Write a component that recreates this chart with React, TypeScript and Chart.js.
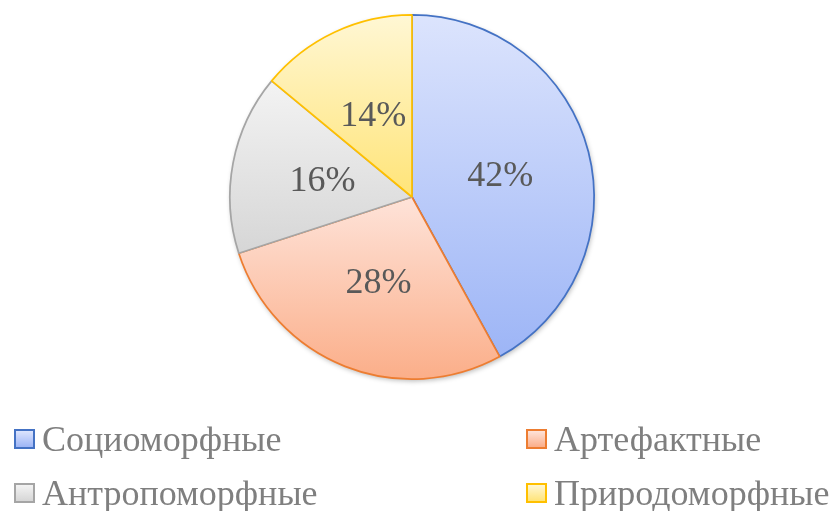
import React, { useEffect, useRef } from "react";
import { Chart, registerables } from "chart.js";

Chart.register(...registerables);

const categories = ["Социоморфные", "Артефактные", "Антропоморфные", "Природоморфные"];
const values = [42, 28, 16, 14];
const valueLabels = ["42%", "28%", "16%", "14%"];
const borderColors = ["#4472c4", "#ed7d31", "#a5a5a5", "#ffc000"];
const gradTop = ["#dce4fd", "#fee3d9", "#f3f3f3", "#fff7d4"];
const gradBottom = ["#9db5f6", "#fbae89", "#d6d6d6", "#ffe478"];

const SERIF = '"Liberation Serif", "Times New Roman", serif';
const BW = 1.75;

function sliceGradient(ctx: any) {
  const chart = ctx.chart;
  const area = chart.chartArea;
  const i = ctx.dataIndex;
  if (!area || i === undefined) return gradBottom[i ?? 0];
  const cy = (area.top + area.bottom) / 2;
  const r = (Math.min(area.right - area.left, area.bottom - area.top) - BW) / 2;
  const total = values.reduce((a, b) => a + b, 0);
  let cum = 0;
  for (let k = 0; k < i; k++) cum += values[k];
  const a0 = -Math.PI / 2 + (2 * Math.PI * cum) / total;
  const a1 = a0 + (2 * Math.PI * values[i]) / total;
  const ys = [cy, cy + r * Math.sin(a0), cy + r * Math.sin(a1)];
  const inRange = (a: number) => {
    for (let t = a - 4 * Math.PI; t <= a1 + 1e-9; t += 2 * Math.PI) {
      if (t >= a0 - 1e-9 && t <= a1 + 1e-9) return true;
    }
    return false;
  };
  if (inRange(Math.PI / 2)) ys.push(cy + r);
  if (inRange(-Math.PI / 2)) ys.push(cy - r);
  const y0 = Math.min(...ys);
  const y1 = Math.max(...ys);
  const g = chart.ctx.createLinearGradient(0, y0, 0, y1);
  g.addColorStop(0, gradTop[i]);
  g.addColorStop(1, gradBottom[i]);
  return g;
}

const shadowPlugin = {
  id: "pieShadow",
  beforeDatasetsDraw(chart: any) {
    const meta = chart.getDatasetMeta(0);
    const arc = meta.data[0];
    if (!arc) return;
    const c = chart.ctx;
    c.save();
    c.shadowColor = "rgba(0,0,0,0.28)";
    c.shadowBlur = 5;
    c.shadowOffsetX = 1;
    c.shadowOffsetY = 2;
    c.fillStyle = "#ffffff";
    c.beginPath();
    c.arc(arc.x, arc.y, arc.outerRadius, 0, Math.PI * 2);
    c.fill();
    c.restore();
  },
};

const labelPlugin = {
  id: "sliceLabels",
  afterDatasetsDraw(chart: any) {
    const meta = chart.getDatasetMeta(0);
    const c = chart.ctx;
    c.save();
    c.font = `36px ${SERIF}`;
    c.fillStyle = "#595959";
    c.textAlign = "center";
    c.textBaseline = "middle";
    meta.data.forEach((arc: any, i: number) => {
      const p = arc.getCenterPoint();
      c.fillText(valueLabels[i], p.x, p.y + 2);
    });
    c.restore();
  },
};

const legendPos = [
  { x: 14, y: 429 },
  { x: 526, y: 429 },
  { x: 14, y: 483 },
  { x: 526, y: 483 },
];

export default function App() {
  const ref = useRef<HTMLCanvasElement | null>(null);
  useEffect(() => {
    if (!ref.current) return;
    const chart = new Chart(ref.current, {
      type: "pie",
      data: {
        labels: categories,
        datasets: [
          {
            data: values,
            backgroundColor: sliceGradient as any,
            borderColor: borderColors,
            borderWidth: BW,
          },
        ],
      },
      options: {
        responsive: false,
        animation: false,
        layout: { padding: { left: 229, right: 238, top: 14, bottom: 131 } },
        plugins: { legend: { display: false }, tooltip: { enabled: false } },
      },
      plugins: [shadowPlugin, labelPlugin],
    });
    return () => chart.destroy();
  }, []);

  return (
    <div style={{ position: "absolute", left: 0, top: 0, width: 833, height: 511, background: "#fff", overflow: "hidden" }}>
      <canvas ref={ref} width={833} height={511} style={{ position: "absolute", left: 0, top: 0 }} />
      {categories.map((name, i) => (
        <div
          key={name}
          style={{
            position: "absolute",
            left: legendPos[i].x,
            top: legendPos[i].y,
            display: "flex",
            alignItems: "center",
            whiteSpace: "nowrap",
          }}
        >
          <span
            style={{
              display: "inline-block",
              width: 17,
              height: 16,
              border: `2px solid ${borderColors[i]}`,
              background: `linear-gradient(${gradTop[i]}, ${gradBottom[i]})`,
              marginRight: 7,
            }}
          />
          <span style={{ fontFamily: SERIF, fontSize: 36, color: "#7f7f7f", lineHeight: "20px" }}>{name}</span>
        </div>
      ))}
    </div>
  );
}
